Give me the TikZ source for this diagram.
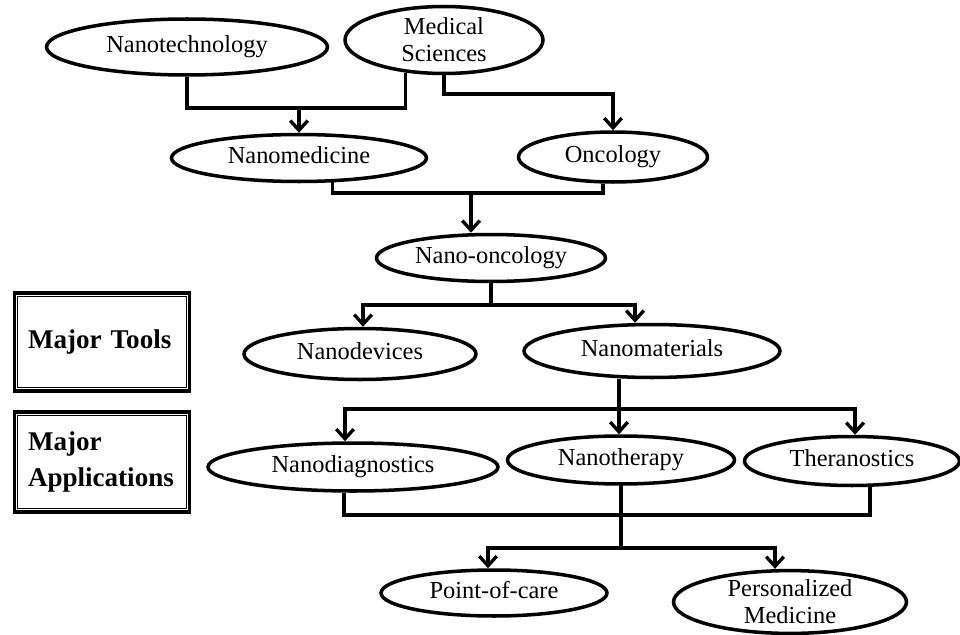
\documentclass[tikz,border=0pt]{standalone}
\usepackage{fontspec}
\setmainfont{Liberation Serif}
\usepackage{tikz}
\usetikzlibrary{shapes.geometric, arrows.meta, calc}
\tikzstyle{arrow} = [line width=1.9pt,-{Straight Barb[length=5.5pt,width=10pt]}]
\tikzstyle{wire} = [line width=1.9pt]
\tikzstyle{twofield}=[line width=2pt,draw=black,ellipse,inner sep=0pt,align=center]
\tikzstyle{field}=[twofield,text height=9.5pt,text depth=3.2pt]
\tikzstyle{tagbox}=[line width=2pt,draw=black,rectangle,inner sep=0pt,minimum width=3.5cm,text width=2.96cm,align=left,font=\fontsize{15.4}{20}\selectfont\bfseries]

\begin{document}
\begin{tikzpicture}[x=0.02cm,y=-0.02cm,font=\fontsize{13.9}{15.5}\selectfont]
    \useasboundingbox (0,0) rectangle (960,635);

    \node[field, minimum width=5.62cm, minimum height=1.12cm] (nt) at (187,47) {Nanotechnology};
    \node[twofield, minimum width=3.96cm, minimum height=1.34cm] (ms) at (444,40) {Medical\\Sciences};
    \node[field, minimum width=5.10cm, minimum height=0.94cm] (nm) at (299,158) {Nanomedicine};
    \node[field, minimum width=3.78cm, minimum height=1.00cm] (on) at (613,157) {Oncology};
    \node[field, minimum width=4.58cm, minimum height=0.94cm] (no) at (491,258) {Nano-oncology};
    \node[field, minimum width=4.64cm, minimum height=1.02cm] (nd) at (360,354) {Nanodevices};
    \node[field, minimum width=5.12cm, minimum height=1.06cm] (nmat) at (652,351) {Nanomaterials};
    \node[field, minimum width=5.80cm, minimum height=0.96cm] (ndx) at (353,467) {Nanodiagnostics};
    \node[field, minimum width=4.54cm, minimum height=0.96cm] (nth) at (621,460) {Nanotherapy};
    \node[field, minimum width=4.30cm, minimum height=0.98cm] (thr) at (852,461) {Theranostics};
    \node[field, minimum width=4.52cm, minimum height=0.92cm] (poc) at (494,593) {Point-of-care};
    \node[twofield, minimum width=4.66cm, minimum height=1.22cm] (pm) at (790,602) {Personalized\\Medicine};

    \node[tagbox, minimum height=1.96cm] (tools) at (102,342) {Major Tools};
    \node[tagbox, minimum height=2.00cm] (apps) at (102,462) {Major\\Applications};
    \draw[line width=0.8pt] ([shift={(0.1cm,-0.1cm)}]tools.north west) rectangle ([shift={(-0.1cm,0.1cm)}]tools.south east);
    \draw[line width=0.8pt] ([shift={(0.1cm,-0.1cm)}]apps.north west) rectangle ([shift={(-0.1cm,0.1cm)}]apps.south east);

    \coordinate (bus1) at (0,108);
    \coordinate (bus2) at (0,94);
    \coordinate (bus3) at (0,193);
    \coordinate (bus4) at (0,305);
    \coordinate (bus5) at (0,409);
    \coordinate (bus6) at (0,515);
    \coordinate (bus7) at (0,548);

    \coordinate (on-out) at ([xshift=-0.2cm]on.south);
    \coordinate (no-in) at ([xshift=-0.4cm]no.north);
    \coordinate (nd-in) at ([xshift=0.06cm]nd.north);
    \coordinate (nmat-in) at ([xshift=-0.34cm]nmat.north);
    \coordinate (nth-in) at ([xshift=-0.04cm]nth.north);
    \coordinate (ndx-in) at ([xshift=-0.16cm]ndx.north);
    \coordinate (ndx-out) at ([xshift=-0.18cm]ndx.south);
    \coordinate (thr-in) at ([xshift=0.06cm]thr.north);
    \coordinate (thr-out) at ([xshift=0.36cm]thr.south);
    \coordinate (poc-in) at ([xshift=-0.12cm]poc.north);
    \coordinate (pm-in) at ([xshift=-0.3cm]pm.north);

    \draw[wire] (nt.south) |- (ms.220 |- bus1) -- (ms.220);
    \draw[arrow] (nm.north |- bus1) -- (nm.north);
    \draw[arrow] (ms.south) |- (on.north |- bus2) -- (on.north);
    \draw[wire] (nm.324) |- (on-out |- bus3) -- (on-out);
    \draw[arrow] (no-in |- bus3) -- (no-in);
    \draw[arrow] (no.south) |- (nd-in |- bus4) -- (nd-in);
    \draw[arrow] (no.south |- bus4) -| (nmat-in);
    \draw[arrow] (nth-in |- nmat.south) -- (nth-in);
    \draw[arrow] (nth-in |- bus5) -| (ndx-in);
    \draw[arrow] (nth-in |- bus5) -| (thr-in);
    \draw[wire] (ndx-out) |- (thr-out |- bus6) -- (thr-out);
    \draw[wire] (nth.south) -- (nth.south |- bus7);
    \draw[arrow] (nth.south |- bus7) -| (poc-in);
    \draw[arrow] (nth.south |- bus7) -| (pm-in);
\end{tikzpicture}
\end{document}
